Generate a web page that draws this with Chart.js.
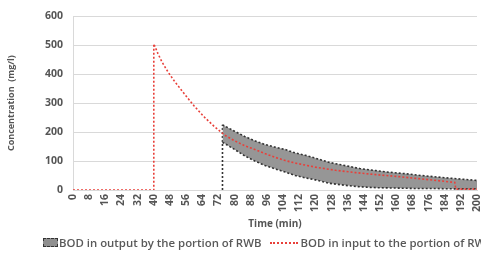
<!DOCTYPE html>
<html>
<head>
<meta charset="utf-8">
<script src="https://cdn.jsdelivr.net/npm/chart.js@4"></script>
<style>
  html, body { margin: 0; padding: 0; background: #fff; overflow: hidden; }
  #wrap { position: relative; width: 481px; height: 265px; overflow: hidden; }
  #legend { position: absolute; left: 43px; top: 234px; white-space: nowrap;
            font: 600 11.4px "Open Sans", sans-serif; color: #595959; }
  #legend span { display: inline-block; vertical-align: middle; }
  .box { width: 13px; height: 7px; background: #8f8f8f; border: 1px dashed #333; margin-right: 1px; }
  .dash { width: 28px; border-top: 2px dotted #e8403a; margin: 0 2px 0 9px; }
</style>
</head>
<body>
<div id="wrap">
  <canvas id="myChart" width="481" height="265"></canvas>
  <div id="legend">
    <span class="box"></span><span>BOD in output by the portion of RWB</span><span class="dash"></span><span>BOD in input to the portion of RWB</span>
  </div>
</div>
<script>
'use strict'

// values (time in min, concentration in mg/l)
const timeIn = [0, 40, 40, 42, 44, 47, 50, 55, 60, 65, 70, 75, 80, 85, 90, 95, 100, 105, 110, 115, 120, 130, 140, 150, 160, 170, 180, 189, 189.5, 200];
const bodIn  = [0, 0, 505, 472, 443, 408, 378, 333, 290, 252, 219, 190, 170, 153, 140, 126, 113, 102, 93, 86, 79, 68, 60, 53, 47, 40, 33, 26, 3, 3];

const timeOut = [74, 80, 85, 90, 95, 100, 105, 110, 115, 120, 127, 135, 142, 150, 157, 165, 171, 180, 188, 200];
const bodOutHigh = [225, 203, 185, 170, 157, 148, 140, 128, 120, 110, 95, 84, 74, 67, 61, 56, 51, 45, 40, 33];
const bodOutLow  = [165, 140, 118, 100, 85, 73, 62, 50, 42, 35, 23, 16, 11, 8, 7, 6, 5, 5, 4, 4];

const outStartTime = [74, 74];
const outStartValue = [0, 225];

const yTicks = [0, 100, 200, 300, 400, 500, 600];
const xMin = 0, xMax = 200, xStep = 8;

function pts(xs, ys){
  return xs.map((x, i) => ({x: x, y: ys[i]}));
}

const textColor = '#555';
const gridColor = 'rgb(217,217,217)';

const data = {
  datasets: [
    {
      label: 'BOD in input to the portion of RWB',
      data: pts(timeIn, bodIn),
      borderColor: 'rgb(232,64,58)',
      borderWidth: 1.6,
      borderDash: [2, 2],
      pointRadius: 0,
      fill: false
    },
    {
      label: 'high',
      data: pts(timeOut, bodOutHigh),
      borderColor: '#333',
      borderWidth: 1.6,
      borderDash: [2, 2],
      pointRadius: 0,
      fill: false
    },
    {
      label: 'BOD in output by the portion of RWB',
      data: pts(timeOut, bodOutLow),
      borderColor: '#333',
      borderWidth: 1.6,
      borderDash: [2, 2],
      pointRadius: 0,
      backgroundColor: 'rgb(150,150,150)',
      fill: 1
    },
    {
      label: 'start',
      data: pts(outStartTime, outStartValue),
      borderColor: '#333',
      borderWidth: 1.6,
      borderDash: [2, 2],
      pointRadius: 0,
      fill: false
    }
  ]
};

const config = {
  type: 'line',
  data: data,
  options: {
    responsive: false,
    animation: false,
    layout: { padding: { left: 0, right: 4, top: 11, bottom: 35 } },
    plugins: { legend: { display: false }, tooltip: { enabled: false } },
    scales: {
      x: {
        type: 'linear',
        min: xMin,
        max: xMax,
        grid: { display: false, drawTicks: false },
        border: { display: true, color: gridColor },
        ticks: {
          stepSize: xStep,
          autoSkip: false,
          minRotation: 90,
          maxRotation: 90,
          padding: 4,
          color: textColor,
          font: { family: 'Open Sans', size: 10.5, weight: 'bold' }
        },
        title: {
          display: true,
          text: 'Time (min)',
          color: textColor,
          padding: { top: 1, bottom: 0 },
          font: { family: 'Open Sans', size: 10, weight: 'bold' }
        },
        afterFit: function(s){ s.height = 40; s.paddingLeft = 0; s.paddingRight = 0; }
      },
      y: {
        min: 0,
        max: 600,
        afterBuildTicks: function(s){ s.ticks = yTicks.map(v => ({value: v})); },
        grid: { color: gridColor, drawTicks: false },
        border: { display: true, color: gridColor },
        ticks: {
          padding: 10,
          color: textColor,
          font: { family: 'Open Sans', size: 10.5, weight: 'bold' }
        },
        title: {
          display: true,
          text: 'Concentration  (mg/l)',
          color: textColor,
          padding: { top: 6, bottom: 0 },
          font: { family: 'Open Sans', size: 9, weight: 'bold' }
        },
        afterFit: function(s){ s.width = 73; }
      }
    }
  }
};

const myChart = new Chart(document.getElementById('myChart'), config);
</script>
</body>
</html>
